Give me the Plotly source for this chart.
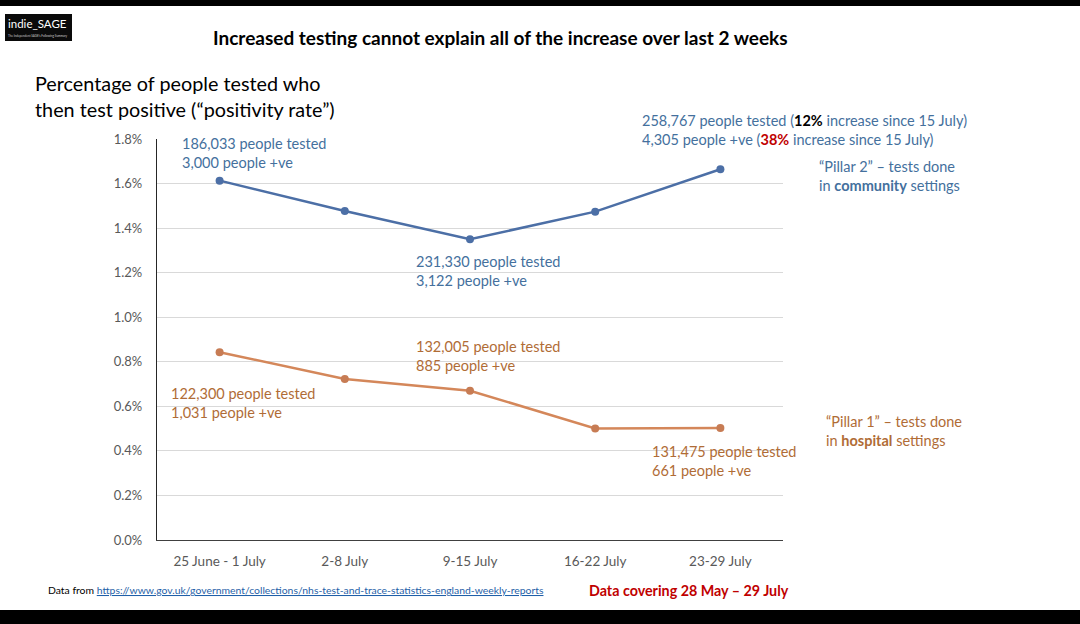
import plotly.graph_objects as go

weeks = ["25 June - 1 July", "2-8 July", "9-15 July", "16-22 July", "23-29 July"]
pillar2 = [1.613, 1.477, 1.350, 1.474, 1.664]
pillar1 = [0.843, 0.723, 0.670, 0.501, 0.503]
y_ticks = [0.0, 0.2, 0.4, 0.6, 0.8, 1.0, 1.2, 1.4, 1.6, 1.8]
y_tick_labels = ["0.0%", "0.2%", "0.4%", "0.6%", "0.8%", "1.0%", "1.2%", "1.4%", "1.6%", "1.8%"]

W, H = 1080, 624
L, R, T, B = 157, 783, 139, 540

def px(x):
    return (x - L) / (R - L)

def py(y):
    return (B - y) / (B - T)

FONT = "Lato"
BLUE_LINE = "#4c6fa6"
BLUE_TXT = "#44709d"
OR_LINE = "#d4875a"
OR_MK = "#c77c54"
OR_TXT = "#b06c36"

fig = go.Figure()
fig.add_trace(go.Scatter(x=weeks, y=pillar2, mode="lines+markers",
                         line=dict(color=BLUE_LINE, width=2.5),
                         marker=dict(color=BLUE_LINE, size=8), showlegend=False))
fig.add_trace(go.Scatter(x=weeks, y=pillar1, mode="lines+markers",
                         line=dict(color=OR_LINE, width=2.5),
                         marker=dict(color=OR_MK, size=8), showlegend=False))

ann = []
def text(x, y, s, color, size=14.5, xanchor="left", yanchor="middle", align="left"):
    ann.append(dict(x=px(x), y=py(y), xref="paper", yref="paper", text=s, showarrow=False,
                    xanchor=xanchor, yanchor=yanchor, align=align, xshift=-1,
                    font=dict(family=FONT, size=size, color=color)))

text(501, 37, "<b>Increased testing cannot explain all of the increase over last 2 weeks</b>", "#000000", size=19, xanchor="center")
text(34, 96, "Percentage of people tested who<br>then test positive (“positivity rate”)", "#000000", size=19.8)
text(181, 153, "186,033 people tested<br>3,000 people +ve", BLUE_TXT)
text(415, 271, "231,330 people tested<br>3,122 people +ve", BLUE_TXT)
text(641, 130, "258,767 people tested (<b><span style='color:#000000'>12%</span></b> increase since 15 July)<br>4,305 people +ve (<b><span style='color:#c00000'>38%</span></b> increase since 15 July)", BLUE_TXT)
text(818, 176, "“Pillar 2” – tests done<br>in <b>community</b> settings", BLUE_TXT)
text(415, 356, "132,005 people tested<br>885 people +ve", OR_TXT)
text(170, 403, "122,300 people tested<br>1,031 people +ve", OR_TXT)
text(651, 461, "131,475 people tested<br>661 people +ve", OR_TXT)
text(825, 431, "“Pillar 1” – tests done<br>in <b>hospital</b> settings", OR_TXT)
text(47, 590, "Data from <span style='color:#1f5fa8'><u>https://www.gov.uk/government/collections/nhs-test-and-trace-statistics-england-weekly-reports</u></span>", "#000000", size=10.4)
text(588, 590, "<b>Data covering 28 May – 29 July</b>", "#c00000", size=14.3)
text(7, 23, "indie_SAGE", "#ffffff", size=11.5)
text(7, 36, "The Independent SAGE's Following Summary", "#cccccc", size=3)

shapes = [
    dict(type="rect", xref="paper", yref="paper", x0=px(-5), x1=px(W + 5), y0=py(6), y1=py(-5),
         fillcolor="#000000", line=dict(width=0), layer="above"),
    dict(type="rect", xref="paper", yref="paper", x0=px(-5), x1=px(W + 5), y0=py(H + 5), y1=py(610),
         fillcolor="#000000", line=dict(width=0), layer="above"),
    dict(type="rect", xref="paper", yref="paper", x0=px(5), x1=px(72), y0=py(41), y1=py(14),
         fillcolor="#0a0a0a", line=dict(width=0), layer="below"),
]

fig.update_layout(
    width=W, height=H,
    margin=dict(l=L, r=W - R, t=T, b=H - B),
    paper_bgcolor="#ffffff", plot_bgcolor="#ffffff",
    font=dict(family=FONT, color="#595959"),
    annotations=ann, shapes=shapes,
    xaxis=dict(type="category", range=[-0.5, 4.5], showgrid=False,
               showline=True, linecolor="#404040", linewidth=1.2,
               ticks="", tickfont=dict(family=FONT, size=13.5, color="#595959"), ticklabelstandoff=9),
    yaxis=dict(range=[0, 1.8], tickvals=y_ticks, ticktext=y_tick_labels,
               showgrid=True, gridcolor="#d9d9d9", gridwidth=1, zeroline=False,
               showline=True, linecolor="#262626", linewidth=1.2, ticks="",
               tickfont=dict(family=FONT, size=13, color="#595959"), ticklabelstandoff=11),
)

fig.write_html("out.html", config={"displayModeBar": False},
               post_script="document.body.style.margin='0';document.body.style.overflow='hidden';")
